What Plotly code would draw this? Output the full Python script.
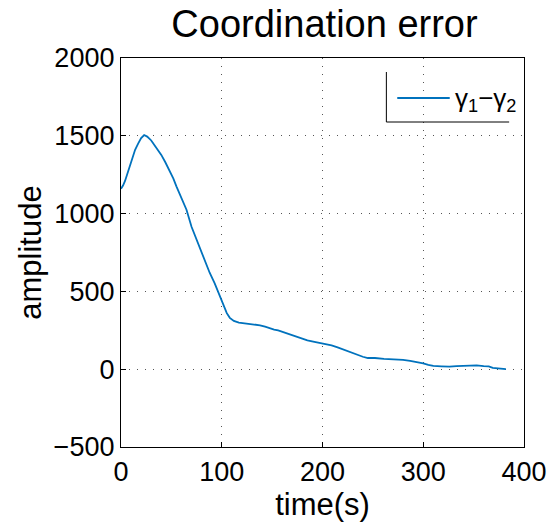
import plotly.graph_objects as go

time_s = [0, 2, 4, 7, 9, 12, 14, 17, 20, 23, 26, 30, 35, 40, 44, 48, 52, 55, 60, 65,
          70, 74, 78, 84, 88, 93, 97, 101, 105, 108, 112, 117, 122, 128, 133, 138, 143,
          148, 152, 156, 161, 166, 172, 179, 185, 192, 199, 205, 209, 215, 222, 228,
          235, 240, 245, 252, 261, 268, 274, 280, 287, 293, 300, 305, 310, 318, 326,
          333, 340, 346, 353, 360, 365, 369, 375, 382]
error = [1160, 1180, 1210, 1270, 1325, 1370, 1410, 1450, 1485, 1505, 1495, 1470, 1425,
         1377, 1330, 1280, 1225, 1175, 1100, 1025, 915, 850, 785, 680, 620, 552, 490,
         424, 360, 330, 310, 300, 296, 292, 285, 282, 273, 262, 255, 250, 238, 228, 212,
         199, 185, 175, 166, 160, 153, 140, 123, 108, 91, 80, 72, 72, 66, 64, 64, 60, 53,
         47, 38, 28, 21, 18, 16, 20, 23, 25, 24, 20, 18, 8, 5, 0]

x_ticks = [0, 100, 200, 300, 400]
y_ticks = [-500, 0, 500, 1000, 1500, 2000]

L, R, T, B = 121, 528, 58, 447
W, H = 559, 522

def px(xp):
    return (xp - L) / (R - L)

def py(yp):
    return (B - yp) / (B - T)

fig = go.Figure()
fig.add_trace(go.Scatter(x=time_s, y=error, mode="lines",
                         line=dict(color="#0072BD", width=1.8), showlegend=False))

axis_common = dict(showline=True, linecolor="black", linewidth=1.3, mirror=True,
                   ticks="inside", ticklen=5, tickcolor="black",
                   showgrid=True, gridcolor="#555555", griddash="1px,7px", gridwidth=1,
                   zeroline=False, tickfont=dict(size=27, color="black"))

fig.update_xaxes(range=[0, 400], tickvals=x_ticks, **axis_common,
                 title=dict(text="time(s)", font=dict(size=31, color="black"), standoff=2))
fig.update_yaxes(range=[-500, 2000], tickvals=y_ticks, **axis_common,
                 title=dict(text="amplitude", font=dict(size=31, color="black"), standoff=2))

# legend (MATLAB style, partial box)
lx0, lx1, ly0, ly1 = px(389), px(513), py(122), py(72)
fig.add_shape(type="line", xref="paper", yref="paper", x0=lx0, x1=lx0, y0=ly0, y1=ly1,
              line=dict(color="black", width=1))
fig.add_shape(type="line", xref="paper", yref="paper", x0=lx0, x1=lx1, y0=ly0, y1=ly0,
              line=dict(color="black", width=1))
fig.add_shape(type="line", xref="paper", yref="paper", x0=px(400), x1=px(453),
              y0=py(98), y1=py(98), line=dict(color="#0072BD", width=1.8))
fig.add_annotation(xref="paper", yref="paper", x=px(456), y=py(99), xanchor="left",
                   yanchor="middle", showarrow=False,
                   text="γ<sub>1</sub>−γ<sub>2</sub>",
                   font=dict(size=26, color="black"))

fig.update_layout(
    width=W, height=H,
    margin=dict(l=L, r=W - R, t=T, b=H - B),
    paper_bgcolor="white", plot_bgcolor="white",
    font=dict(family="Liberation Sans, Arial, sans-serif", color="black"),
    title=dict(text="Coordination error", x=(L + R) / 2 / W, xanchor="center",
               y=1 - 24 / H, yanchor="middle", font=dict(size=38, color="black")),
)

fig.write_html("out.html")
